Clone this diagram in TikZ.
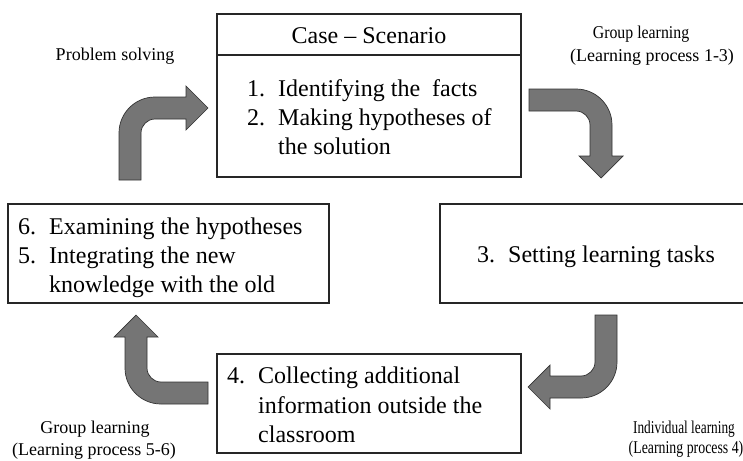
\documentclass[tikz,border=0pt]{standalone}
\usepackage{fontspec}
\setmainfont{Liberation Serif}
\usetikzlibrary{calc}

% number column of the step lists
\def\numw{31pt}
\def\itm#1#2{\makebox[\numw][l]{#1}#2}

\begin{document}
\begin{tikzpicture}[
    x=1pt, y=-1pt,
    font=\fontsize{24}{29}\selectfont,
    stepbox/.style={draw=black!85, line width=1.2pt, inner sep=0pt},
    bentfill/.style={fill=black!54, draw=black!80, line width=0.7pt},
    steptext/.style={anchor=base west, inner sep=0pt},
    sidelabel/.style={anchor=base, inner sep=0pt, font=\fontsize{18}{22}\selectfont},
]

\useasboundingbox (0,0) rectangle (743,460);

% ===== Boxes =====
\node[stepbox, minimum width=304pt, minimum height=163pt] (casebox) at (369,95.5) {};
\node[stepbox, minimum width=321pt, minimum height=99pt] (exambox) at (168.5,253.5) {};
\node[stepbox, minimum width=321pt, minimum height=99pt] (taskbox) at (600.5,253.5) {};
\node[stepbox, minimum width=304pt, minimum height=99pt] (collbox) at (369,403.5) {};

% header of the case box
\draw[stepbox] (casebox.west |- 0,55) -- (casebox.east |- 0,55);
\node[anchor=base, inner sep=0pt] (casehead) at (369,44) {Case – Scenario};

% ===== Step texts =====
\foreach \px/\py/\num/\txt [count=\k] in {
    247/96/1./{Identifying the\ \ facts},
    247/125/2./{Making hypotheses of},
    247/154//{the solution},
    18/234/6./{Examining the hypotheses},
    18/263/5./{Integrating the new},
    18/292//{knowledge with the old},
    477/262/3./{Setting learning tasks},
    227/383/4./{Collecting additional},
    227/413//{information outside the},
    227/442//{classroom}} {
    \node[steptext] (line\k) at (\px,\py) {\itm{\num}{\txt}};
}

% ===== Bent block arrows (same shape, turned clockwise round the cycle) =====
% local frame: outer corner at origin, tail below, head to the right
\foreach \ox/\oy/\ang in {119/97/0, 612/89/-90, 617/398/180, 125/404/90} {
    \begin{scope}[shift={(\ox,\oy)}, rotate=\ang]
        \draw[bentfill] (0,83) -- (0,36) .. controls (0,16.1) and (16.1,0) .. (36,0)
            -- (67,0) -- (67,-11) -- (89,11) -- (67,33) -- (67,22) -- (36,22)
            .. controls (28.3,22) and (22,28.3) .. (22,36) -- (22,83) -- cycle;
    \end{scope}
}

% ===== Side labels =====
\node[sidelabel] (solve) at (115,60) {Problem solving};
\node[sidelabel] (grpA) at (641,39) {\scalebox{0.88}[1]{Group learning}};
\node[sidelabel] (grpAp) at (652,62) {(Learning process 1-3)};
\node[sidelabel] (grpB) at (95,433) {Group learning};
\node[sidelabel] (grpBp) at (94,455) {(Learning process 5-6)};
\node[sidelabel] (indiv) at (684,433) {\scalebox{0.74}[1]{Individual learning}};
\node[sidelabel] (indivp) at (686,453) {\scalebox{0.77}[1]{(Learning process 4)}};

\end{tikzpicture}
\end{document}
